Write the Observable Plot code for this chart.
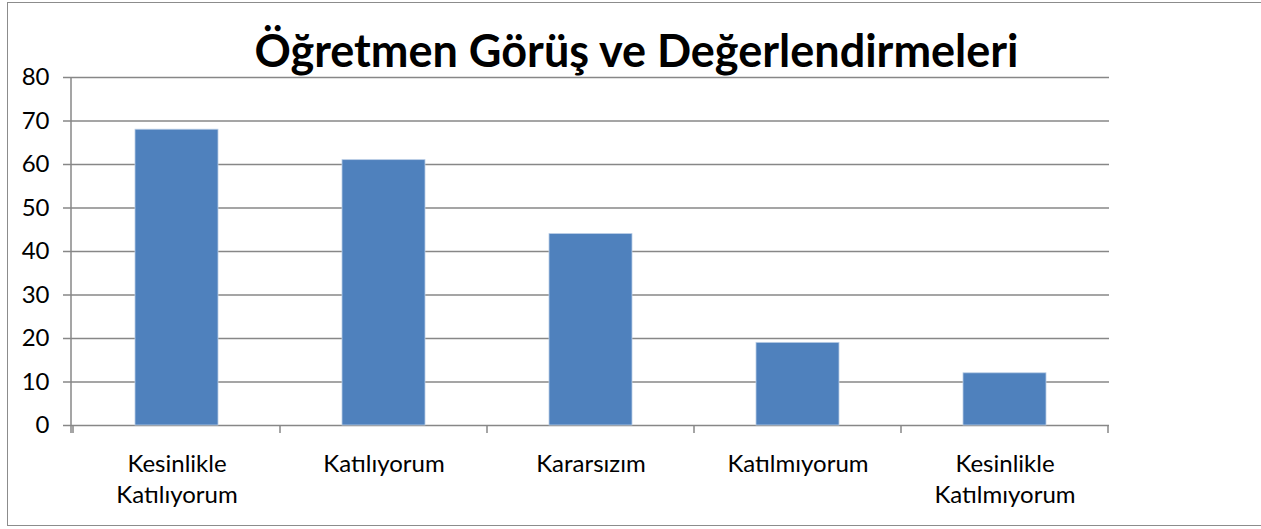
<!DOCTYPE html>
<html>
<head>
<meta charset="utf-8">
<script src="https://cdn.jsdelivr.net/npm/d3@7"></script>
<script src="https://cdn.jsdelivr.net/npm/@observablehq/plot@0.6"></script>
<style>
  html, body { margin: 0; padding: 0; background: #fff; }
  #wrap { position: relative; width: 1261px; height: 529px; overflow: hidden; }
  #frame { position: absolute; left: 7px; top: 2px; width: 1260px; height: 524px; border: 1.5px solid #8c8c8c; box-sizing: border-box; }
  #title { position: absolute; left: 0; width: 1273px; top: 22px; text-align: center;
           font-family: Lato, "Liberation Sans", sans-serif; font-weight: bold; font-size: 45px; color: #000; line-height: 56px; }
  #chart { position: absolute; left: 0; top: 0; }
</style>
</head>
<body>
<div id="wrap">
  <div id="frame"></div>
  <div id="chart"></div>
  <div id="title">Öğretmen Görüş ve Değerlendirmeleri</div>
</div>
<script>
const categories = ["Kesinlikle\nKatılıyorum", "Katılıyorum", "Kararsızım", "Katılmıyorum", "Kesinlikle\nKatılmıyorum"];
const values = [68, 61, 44, 19, 12];
const yTicks = [0, 10, 20, 30, 40, 50, 60, 70, 80];

const data = categories.map((c, i) => ({category: c, value: values[i]}));
const gridColor = "#878787";

// boundary ticks + left axis line drawn from the band scale
function bandFrame(index, scales, values, dims) {
  const x = scales.x, y = scales.y;
  const g = d3.create("svg:g");
  const step = x.step();
  const left = dims.marginLeft;
  const y0 = y(0), yTop = y(80);
  g.append("line").attr("x1", left).attr("x2", left).attr("y1", yTop).attr("y2", y0 + 8)
    .attr("stroke", gridColor).attr("stroke-width", 1.5);
  const bounds = categories.map(c => x(c) + x.bandwidth() / 2 - step / 2);
  bounds.push(bounds[bounds.length - 1] + step);
  for (const b of bounds) {
    g.append("line").attr("x1", b).attr("x2", b).attr("y1", y0).attr("y2", y0 + 8)
      .attr("stroke", gridColor).attr("stroke-width", 1.5);
  }
  return g.node();
}

const chart = Plot.plot({
  width: 1261,
  height: 529,
  marginLeft: 71,
  marginRight: 152,
  marginTop: 77,
  marginBottom: 104,
  style: {fontFamily: "Lato, 'Liberation Sans', sans-serif", background: "transparent", color: "#000"},
  x: {domain: categories, paddingInner: 0.6, paddingOuter: 0.3, label: null},
  y: {domain: [0, 80], label: null},
  marks: [
    Plot.ruleY(yTicks, {y: d => d, stroke: gridColor, strokeWidth: 1.5, insetLeft: -8}),
    Plot.barY(data, {x: "category", y: "value", fill: "#4F81BD", stroke: "#B9CDE5", strokeWidth: 0.8}),
    bandFrame,
    Plot.axisY(yTicks, {tickSize: 0, tickPadding: 22, fontSize: 24, label: null, tickFormat: d => String(d)}),
    Plot.axisX({tickSize: 0, tickPadding: 24, fontSize: 24, lineHeight: 1.3, label: null})
  ]
});
document.getElementById("chart").appendChild(chart);
</script>
</body>
</html>
